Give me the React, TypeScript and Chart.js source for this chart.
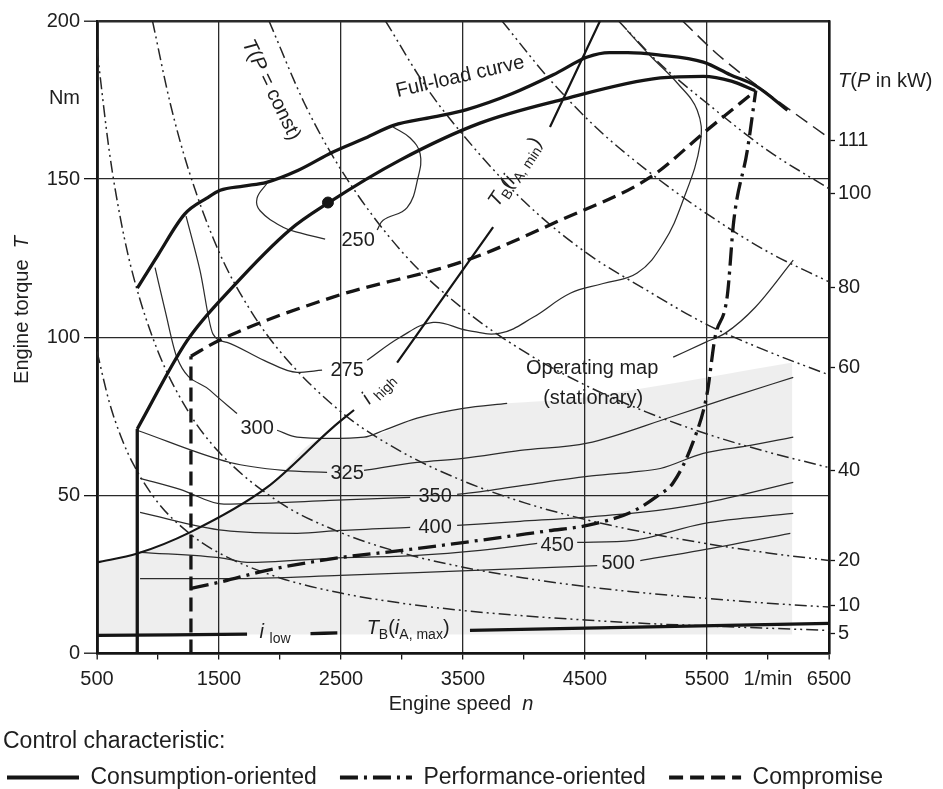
import React, { useEffect, useRef } from 'react';
import { Chart, registerables } from 'chart.js';

Chart.register(...registerables);

const FONT = '"Liberation Sans", Arial, Helvetica, sans-serif';
const INK = '#151515';
const TEXT = '#1e1e1e';
const GRID = '#2a2a2a';
const THIN = '#2c2c2c';

// ---------- axis ticks ----------
const X_TICK_VALUES = [500, 1000, 1500, 2000, 2500, 3000, 3500, 4000, 4500, 5000, 5500, 6000, 6500];
const X_TICK_TEXT = ['500', '', '1500', '', '2500', '', '3500', '', '4500', '', '5500', '1/min', '6500'];
const POWER_LABELS = ['111', '100', '80', '60', '40', '20', '10', '5'];
const POWER_LABEL_T = [162.3, 145.6, 115.8, 90.5, 57.9, 29.4, 15.2, 6.3];

// ---------- control characteristics (legend) ----------
const CONTROL_NAMES = ['Consumption-oriented', 'Performance-oriented', 'Compromise'];

// ---------- thick curves ----------
const FULL_LOAD_N = [830, 1000, 1220, 1400, 1510, 1700, 1890, 2150, 2430, 2700, 2930, 3250, 3530, 3900, 4240, 4520, 4700, 4850, 5100, 5470, 5690, 5900, 6160];
const FULL_LOAD_T = [115.5, 126, 139, 144, 146.5, 147.8, 149, 152.8, 158.5, 163, 167, 169.6, 172, 177, 183, 188.6, 190, 190, 189.3, 187, 183, 179.5, 171.8];

const CONS_VERT_N = [830, 830];
const CONS_VERT_T = [0, 71];
const CONS_N = [830, 1240, 1615, 2082, 2393, 2984, 3639, 4296, 5117, 5470, 5700, 5893];
const CONS_T = [71, 99, 116, 134, 142.4, 156, 167.7, 175, 182, 182.5, 181, 178];
const OPT_POINT_N = [2393];
const OPT_POINT_T = [142.6];

const COMP_VERT_N = [1270, 1270];
const COMP_VERT_T = [0, 94];
const COMP_N = [1270, 1500, 2434, 3533, 4296, 5035, 5500, 5900];
const COMP_T = [94, 99, 112.7, 124.4, 137, 150.6, 165.5, 178];

const PERF_N = [1270, 1500, 1893, 2434, 3000, 3639, 4200, 4518, 4895, 5100, 5223, 5387, 5500, 5566, 5666, 5720, 5830, 5900];
const PERF_T = [20.6, 22.5, 26.3, 30, 32.6, 35.8, 38.8, 40.5, 45, 50, 54, 67, 82, 100, 113, 137, 159, 178];

// gear ratio limits
const IHIGH1_N = [500, 830, 1262, 1893, 2434, 2607];
const IHIGH1_T = [28.8, 31.6, 38.3, 52.5, 71.5, 77];
const IHIGH2_N = [2960, 3747];
const IHIGH2_T = [92, 134.8];
const IHIGH3_N = [4213, 4623];
const IHIGH3_T = [166.5, 200];

const ILOW1_N = [500, 1730];
const ILOW1_T = [5.7, 6.1];
const ILOW2_N = [2250, 2470];
const ILOW2_T = [6.3, 6.5];
const ILOW3_N = [3557, 6500];
const ILOW3_T = [7.3, 9.5];

// ---------- specific fuel consumption contours (g/kWh) ----------
const C250A_N = [2370, 2165, 2025, 1837, 1812, 1894];
const C250A_T = [131, 133, 134.8, 140, 144, 148.7];
const C250B_N = [2796, 2845, 3042, 3132, 3149, 3067, 2927];
const C250B_T = [133.9, 137, 141, 150.6, 158, 163, 166.5];

const C275A_N = [1230, 1345, 1451, 1566, 1869, 2140, 2345];
const C275A_T = [138.3, 121, 101, 98.4, 92.7, 88.9, 89.6];
const C275B_N = [2714, 2985, 3255, 3534, 3805, 4075, 4379, 4649, 4928, 5141, 5305, 5445, 5420, 5256, 5035, 4846];
const C275B_T = [92.7, 100, 104.7, 102.2, 101.3, 106.3, 113.9, 117, 120.3, 129.7, 143.4, 161.4, 171.8, 180.4, 189, 197];

const C300A_N = [976, 1058, 1156, 1427, 1648];
const C300A_T = [122, 108.5, 93.5, 83.2, 75.9];
const C300B_N = [1976, 2140, 2411, 2689, 2853, 3124, 3501, 3862];
const C300B_T = [70.6, 68.4, 68, 68.4, 70.6, 74.4, 77.5, 79.1];
const C300C_N = [5223, 5486, 5650, 5896, 6207];
const C300C_T = [93.7, 98.4, 101.3, 109.5, 124.4];

const C325A_N = [828, 1591, 2026, 2386];
const C325A_T = [70.6, 60.4, 57.9, 57.3];
const C325B_N = [2689, 3124, 3501, 3969, 4518, 5199, 5691, 6207];
const C325B_T = [57.9, 60.4, 61.7, 64.2, 66.5, 74.7, 81, 87.3];

const C350A_N = [853, 1181, 1541, 1869, 2411, 3067];
const C350A_T = [55.4, 51.9, 47.2, 47.5, 48.4, 49.4];
const C350B_N = [3452, 3723, 4051, 4518, 4871, 5117, 5469, 5855, 6207];
const C350B_T = [50.3, 51.6, 53.5, 56, 57.3, 58.5, 63.3, 65.8, 68.4];

const C400A_N = [853, 1541, 2140, 2493, 3067];
const C400A_T = [44.6, 38.9, 38, 38.9, 39.9];
const C400B_N = [3452, 3969, 4461, 4953, 5469, 6207];
const C400B_T = [40.5, 41.8, 43, 44.6, 47.5, 54.1];

const C450A_N = [853, 1541, 1730, 2411, 3124, 3641, 4108];
const C450A_T = [32, 30.1, 28.8, 30.1, 31, 32.6, 34.8];
const C450B_N = [4436, 4895, 5469, 6207];
const C450B_T = [35.1, 35.8, 41.1, 44.3];

const C500A_N = [853, 1591, 2493, 3124, 3805, 4600];
const C500A_T = [23.7, 23.7, 24.7, 25.6, 26.6, 27.8];
const C500B_N = [4953, 5445, 6183];
const C500B_T = [29.4, 32.6, 38];

// shaded low-load part of the operating map
const SHADE_N = [500, 830, 1262, 1893, 2350, 2689, 3124, 3501, 3862, 4400, 5000, 5600, 6200];
const SHADE_T = [28.8, 31.6, 38.3, 52.5, 68, 68.4, 74.4, 77.5, 79.1, 80.5, 84, 88, 92];

// ---------- constant power lines T(P) ----------
const P5_N = [500, 600, 700, 800, 1000, 1250, 1500, 2000, 2500, 3000, 3500, 4000, 4500, 5000, 5500, 6000, 6500];
const P5_T = [95.5, 79.6, 68.2, 59.7, 47.7, 38.2, 31.8, 23.9, 19.1, 15.9, 13.6, 11.9, 10.6, 9.5, 8.7, 8.0, 7.3];
const P10_N = [500, 600, 700, 800, 1000, 1250, 1500, 2000, 2500, 3000, 3500, 4000, 4500, 5000, 5500, 6000, 6500];
const P10_T = [191, 159, 136, 119, 95.5, 76.4, 63.7, 47.7, 38.2, 31.8, 27.3, 23.9, 21.2, 19.1, 17.4, 15.9, 14.7];
const P20_N = [955, 1100, 1250, 1500, 1750, 2000, 2500, 3000, 3500, 4000, 4500, 5000, 5500, 6000, 6500];
const P20_T = [200, 174, 153, 127, 109, 95.5, 76.4, 63.7, 54.6, 47.7, 42.4, 38.2, 34.7, 31.8, 29.4];
const P40_N = [1910, 2200, 2500, 3000, 3500, 4000, 4500, 5000, 5500, 6000, 6500];
const P40_T = [200, 174, 153, 127, 109, 95.5, 84.9, 76.4, 69.4, 63.7, 58.8];
const P60_N = [2865, 3200, 3500, 4000, 4500, 5000, 5500, 6000, 6500];
const P60_T = [200, 179, 164, 143, 127, 115, 104, 95.5, 88.1];
const P80_N = [3820, 4200, 4600, 5000, 5500, 6000, 6500];
const P80_T = [200, 182, 166, 153, 139, 127, 117.5];
const P100_N = [4775, 5100, 5500, 6000, 6500];
const P100_T = [200, 187, 174, 159, 147];
const P111_N = [5300, 5600, 6000, 6500];
const P111_T = [200, 189, 177, 163];

// ---------- styles ----------
const DASH_PERF = [18, 6, 3, 6];
const DASH_COMP = [14, 7];
const DASH_POWER = [12, 4, 2, 4, 2, 4];
const DASH_P111 = [14, 7];
const LEGEND_GAP = '   ';

type Seg = { t: string; it?: boolean; sub?: boolean };
type MapLabel = { segs: Seg[]; n: number; T: number; angle?: number };

const MAP_LABELS: MapLabel[] = [
  { segs: [{ t: 'Full-load curve' }], n: 3477, T: 182.3, angle: -13 },
  { segs: [{ t: 'T', it: true }, { t: '(' }, { t: 'P', it: true }, { t: ' = const)' }], n: 1927, T: 178.2, angle: 64 },
  { segs: [{ t: '250' }], n: 2640, T: 130.7 },
  { segs: [{ t: '275' }], n: 2550, T: 89.6 },
  { segs: [{ t: '300' }], n: 1812, T: 71.2 },
  { segs: [{ t: '325' }], n: 2550, T: 57 },
  { segs: [{ t: '350' }], n: 3272, T: 49.7 },
  { segs: [{ t: '400' }], n: 3272, T: 39.9 },
  { segs: [{ t: '450' }], n: 4272, T: 34.2 },
  { segs: [{ t: '500' }], n: 4772, T: 28.5 },
  { segs: [{ t: 'i ', it: true }, { t: 'high', sub: true }], n: 2804, T: 83.9, angle: -45 },
  { segs: [{ t: 'T', it: true }, { t: 'B', sub: true }, { t: '(' }, { t: 'i', it: true }, { t: 'A, min', sub: true }, { t: ')' }], n: 3928, T: 152.2, angle: -56 },
  { segs: [{ t: 'Operating map' }], n: 4559, T: 90.2 },
  { segs: [{ t: '(stationary)' }], n: 4567, T: 80.7 },
  { segs: [{ t: 'i ', it: true }, { t: 'low', sub: true }], n: 1960, T: 6.6 },
  { segs: [{ t: 'T', it: true }, { t: 'B', sub: true }, { t: '(' }, { t: 'i', it: true }, { t: 'A, max', sub: true }, { t: ')' }], n: 3050, T: 7.8 },
];

const Y_TITLE: Seg[] = [{ t: 'Engine torque  ' }, { t: 'T', it: true }];
const X_TITLE: Seg[] = [{ t: 'Engine speed  ' }, { t: 'n', it: true }];
const P_TITLE: Seg[] = [{ t: 'T', it: true }, { t: '(' }, { t: 'P', it: true }, { t: ' in kW)' }];

function drawRich(ctx: CanvasRenderingContext2D, segs: Seg[], x: number, y: number, angleDeg: number, size: number, align: 'left' | 'center' | 'right' = 'center') {
  ctx.save();
  ctx.translate(x, y);
  ctx.rotate((angleDeg * Math.PI) / 180);
  ctx.textBaseline = 'middle';
  ctx.textAlign = 'left';
  ctx.fillStyle = TEXT;
  const parts = segs.map((s) => {
    const fs = s.sub ? Math.round(size * 0.72) : size;
    const font = `${s.it ? 'italic ' : ''}${fs}px ${FONT}`;
    ctx.font = font;
    return { s, font, w: ctx.measureText(s.t).width, dy: s.sub ? size * 0.32 : 0 };
  });
  const total = parts.reduce((a, p) => a + p.w, 0);
  let cx = align === 'center' ? -total / 2 : align === 'right' ? -total : 0;
  for (const p of parts) {
    ctx.font = p.font;
    ctx.fillText(p.s.t, cx, p.dy);
    cx += p.w;
  }
  ctx.restore();
}

const textPlugin = {
  id: 'mapText',
  afterDraw(chart: any) {
    const { ctx, scales, chartArea } = chart;
    const xs = scales.x;
    const ys = scales.y;
    for (const a of MAP_LABELS) {
      drawRich(ctx, a.segs, xs.getPixelForValue(a.n), ys.getPixelForValue(a.T), a.angle || 0, 20);
    }
    drawRich(ctx, Y_TITLE, 22, 310, -90, 20);
    drawRich(ctx, X_TITLE, (chartArea.left + chartArea.right) / 2 - 2, 704, 0, 20);
    drawRich(ctx, [{ t: 'Nm' }], chartArea.left - 17, ys.getPixelForValue(175.6), 0, 20, 'right');
    drawRich(ctx, P_TITLE, chartArea.right + 9, ys.getPixelForValue(181), 0, 20, 'left');
  },
};

const pts = (n: number[], t: number[]) => n.map((x, i) => ({ x, y: t[i] }));

function line(label: string, n: number[], t: number[], o: any = {}) {
  return {
    label,
    data: pts(n, t),
    showLine: true,
    pointRadius: 0,
    pointHoverRadius: 0,
    borderColor: INK,
    backgroundColor: INK,
    borderWidth: 1.3,
    fill: false,
    cubicInterpolationMode: 'monotone',
    ...o,
  };
}

const thick = { borderWidth: 3.3, borderColor: INK };
const contour = { borderWidth: 1.25, borderColor: THIN };
const curved = { cubicInterpolationMode: 'default', tension: 0.4 };
const power = { borderWidth: 1.5, borderColor: '#262626', borderDash: DASH_POWER };

export default function App() {
  const ref = useRef<HTMLCanvasElement | null>(null);

  useEffect(() => {
    if (!ref.current) return;
    const datasets: any[] = [
      line(CONTROL_NAMES[0], CONS_N, CONS_T, thick),
      line('cons-vertical', CONS_VERT_N, CONS_VERT_T, { ...thick, cubicInterpolationMode: 'default', tension: 0 }),
      line(CONTROL_NAMES[1], PERF_N, PERF_T, { ...thick, borderDash: DASH_PERF }),
      line(CONTROL_NAMES[2], COMP_N, COMP_T, { ...thick, borderDash: DASH_COMP }),
      line('comp-vertical', COMP_VERT_N, COMP_VERT_T, { ...thick, borderDash: DASH_COMP, cubicInterpolationMode: 'default', tension: 0 }),
      line('Full-load curve', FULL_LOAD_N, FULL_LOAD_T, thick),
      { label: 'optimum', data: pts(OPT_POINT_N, OPT_POINT_T), showLine: false, pointRadius: 5.5, pointBackgroundColor: INK, pointBorderColor: INK },
      line('i high 1', IHIGH1_N, IHIGH1_T, { borderWidth: 2.2 }),
      line('i high 2', IHIGH2_N, IHIGH2_T, { borderWidth: 2.2 }),
      line('i high 3', IHIGH3_N, IHIGH3_T, { borderWidth: 2.2 }),
      line('i low 1', ILOW1_N, ILOW1_T, thick),
      line('i low 2', ILOW2_N, ILOW2_T, thick),
      line('i low 3', ILOW3_N, ILOW3_T, thick),
      line('250a', C250A_N, C250A_T, { ...contour, ...curved }),
      line('250b', C250B_N, C250B_T, { ...contour, ...curved }),
      line('275a', C275A_N, C275A_T, contour),
      line('275b', C275B_N, C275B_T, { ...contour, ...curved }),
      line('300a', C300A_N, C300A_T, contour),
      line('300b', C300B_N, C300B_T, contour),
      line('300c', C300C_N, C300C_T, contour),
      line('325a', C325A_N, C325A_T, contour),
      line('325b', C325B_N, C325B_T, contour),
      line('350a', C350A_N, C350A_T, contour),
      line('350b', C350B_N, C350B_T, contour),
      line('400a', C400A_N, C400A_T, contour),
      line('400b', C400B_N, C400B_T, contour),
      line('450a', C450A_N, C450A_T, contour),
      line('450b', C450B_N, C450B_T, contour),
      line('500a', C500A_N, C500A_T, contour),
      line('500b', C500B_N, C500B_T, contour),
      line('P5', P5_N, P5_T, power),
      line('P10', P10_N, P10_T, power),
      line('P20', P20_N, P20_T, power),
      line('P40', P40_N, P40_T, power),
      line('P60', P60_N, P60_T, power),
      line('P80', P80_N, P80_T, power),
      line('P100', P100_N, P100_T, power),
      line('P111', P111_N, P111_T, { ...power, borderDash: DASH_P111 }),
      line('shade', SHADE_N, SHADE_T, { borderWidth: 0, borderColor: 'rgba(0,0,0,0)', backgroundColor: 'rgba(0,0,0,0.065)', fill: { value: 6 } }),
    ];

    const legendDash = [[], DASH_PERF, DASH_COMP];

    const chart = new Chart(ref.current, {
      type: 'line',
      data: { datasets },
      plugins: [textPlugin],
      options: {
        responsive: false,
        animation: false,
        events: [],
        layout: { padding: { top: 21, right: 0, bottom: 0, left: 3 } },
        plugins: {
          tooltip: { enabled: false },
          legend: {
            position: 'bottom',
            align: 'start',
            onClick: () => {},
            title: {
              display: true,
              text: 'Control characteristic:',
              position: 'start',
              color: TEXT,
              font: { family: FONT, size: 23 },
              padding: { top: 4, bottom: 4.4 },
            },
            labels: {
              color: TEXT,
              font: { family: FONT, size: 23 },
              usePointStyle: true,
              pointStyleWidth: 72,
              padding: 4,
              generateLabels: () =>
                CONTROL_NAMES.map((name, i) => ({
                  text: i < CONTROL_NAMES.length - 1 ? name + LEGEND_GAP : name,
                  fillStyle: 'rgba(0,0,0,0)',
                  strokeStyle: INK,
                  lineWidth: 4.2,
                  lineDash: legendDash[i],
                  pointStyle: 'line',
                  hidden: false,
                  fontColor: TEXT,
                  datasetIndex: i,
                })),
            },
          },
        },
        scales: {
          x: {
            type: 'linear',
            min: 500,
            max: 6500,
            afterBuildTicks: (s: any) => {
              s.ticks = X_TICK_VALUES.map((v) => ({ value: v }));
            },
            afterFit: (s: any) => {
              s.height = 72.5;
            },
            ticks: {
              autoSkip: false,
              maxRotation: 0,
              padding: 8,
              color: TEXT,
              font: { family: FONT, size: 20 },
              callback: (_v: any, i: number) => X_TICK_TEXT[i],
            },
            grid: {
              color: (c: any) => ((c.tick && (c.tick.value - 500) % 1000 === 0) ? GRID : 'rgba(0,0,0,0)'),
              lineWidth: (c: any) => (c.tick && (c.tick.value === 500 || c.tick.value === 6500) ? 2.4 : 1.3),
              tickColor: INK,
              tickLength: 6,
              tickWidth: 1.3,
            },
            border: { display: true, color: INK, width: 2.4 },
          },
          y: {
            min: 0,
            max: 200,
            afterFit: (s: any) => {
              s.width = 94;
            },
            ticks: {
              stepSize: 10,
              autoSkip: false,
              padding: 4,
              color: TEXT,
              font: { family: FONT, size: 20 },
              callback: (v: any) => (Number(v) % 50 === 0 ? String(v) : ''),
            },
            grid: {
              color: (c: any) => (c.tick && c.tick.value % 50 === 0 ? GRID : 'rgba(0,0,0,0)'),
              lineWidth: (c: any) => (c.tick && (c.tick.value === 0 || c.tick.value === 200) ? 2.4 : 1.3),
              tickColor: (c: any) => (c.tick && c.tick.value % 50 === 0 ? INK : 'rgba(0,0,0,0)'),
              tickLength: 13,
              tickWidth: 1.3,
            },
            border: { display: true, color: INK, width: 2.8 },
          },
          y2: {
            position: 'right',
            min: 0,
            max: 200,
            afterBuildTicks: (s: any) => {
              s.ticks = POWER_LABEL_T.map((v) => ({ value: v }));
            },
            afterFit: (s: any) => {
              s.width = 114;
            },
            ticks: {
              autoSkip: false,
              padding: 3,
              color: TEXT,
              font: { family: FONT, size: 20 },
              callback: (_v: any, i: number) => POWER_LABELS[i],
            },
            grid: { drawOnChartArea: false, tickColor: INK, tickLength: 6, tickWidth: 1.3 },
            border: { display: true, color: INK, width: 2.4 },
          },
        },
      } as any,
    });
    return () => chart.destroy();
  }, []);

  return (
    <div style={{ position: 'absolute', left: 0, top: 0, width: 943, height: 789, overflow: 'hidden', background: '#fff' }}>
      <canvas ref={ref} width={943} height={799} style={{ display: 'block' }} />
    </div>
  );
}
